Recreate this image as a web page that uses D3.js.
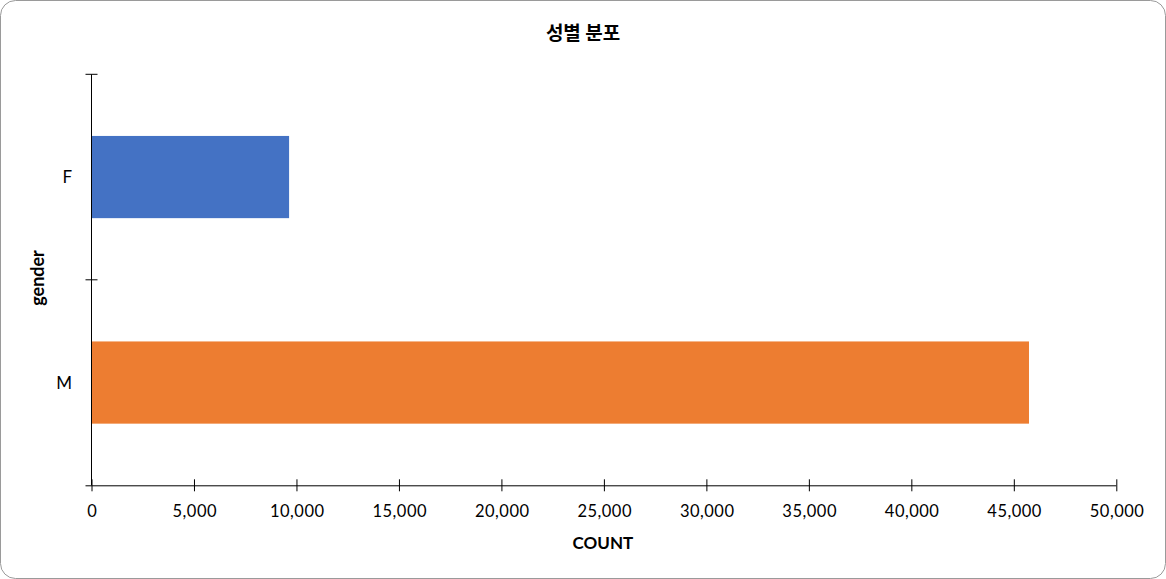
<!DOCTYPE html>
<html>
<head>
<meta charset="utf-8">
<script src="https://cdn.jsdelivr.net/npm/d3@7/dist/d3.min.js"></script>
<style>
  html, body { margin: 0; padding: 0; background: #fff; }
  svg { display: block; }
</style>
</head>
<body>
<svg id="chart" width="1166" height="579"></svg>
<script>
const title = "성별 분포";
const categories = ["F", "M"];
const counts = [9640, 45740];
const colors = ["#4472C4", "#ED7D31"];
const xTicks = [0, 5000, 10000, 15000, 20000, 25000, 30000, 35000, 40000, 45000, 50000];
const xLabel = "COUNT";
const yLabel = "gender";

const W = 1166, H = 579;
const m = { left: 91.5, right: 1116.3, top: 74.3, bottom: 485.3 };
const font = "Lato, 'Open Sans', sans-serif";

const svg = d3.select("#chart");

svg.append("rect")
  .attr("x", 0.5).attr("y", 0.5)
  .attr("width", W - 1).attr("height", H - 1)
  .attr("rx", 15).attr("ry", 15)
  .attr("fill", "#fff").attr("stroke", "#9a9a9a").attr("stroke-width", 1);

const x = d3.scaleLinear().domain([0, 50000]).range([m.left, m.right]);
const y = d3.scaleBand().domain(categories).range([m.top, m.bottom])
  .paddingInner(0.6).paddingOuter(0.3);

// bars
svg.append("g").selectAll("rect")
  .data(categories)
  .join("rect")
  .attr("x", x(0))
  .attr("y", d => y(d))
  .attr("width", (d, i) => x(counts[i]) - x(0))
  .attr("height", y.bandwidth())
  .attr("fill", (d, i) => colors[i]);

// x axis
const xAxis = svg.append("g")
  .attr("transform", `translate(0,${m.bottom})`)
  .call(d3.axisBottom(x).tickValues(xTicks).tickFormat(d3.format(",")).tickSizeOuter(0).tickSize(6).tickPadding(14));
xAxis.select(".domain").attr("d", `M${m.left - 6},0.5H${m.right}`).attr("stroke", "#000");
xAxis.selectAll(".tick line").attr("y1", -6).attr("y2", 6).attr("stroke", "#000");
xAxis.selectAll(".tick text")
  .attr("font-family", font).attr("font-size", 16.5).attr("fill", "#000")
  .attr("letter-spacing", "0.5px").attr("dx", "0.3px");

// y axis: ticks at band boundaries
const step = y.step();
const boundaries = [m.top, m.top + step, m.bottom];
const yg = svg.append("g");
yg.append("line")
  .attr("x1", m.left).attr("x2", m.left)
  .attr("y1", m.top).attr("y2", m.bottom)
  .attr("stroke", "#000");
yg.selectAll("line.tick")
  .data(boundaries.slice(0, 2))
  .join("line")
  .attr("class", "tick")
  .attr("x1", m.left - 6).attr("x2", m.left + 6)
  .attr("y1", d => d).attr("y2", d => d)
  .attr("stroke", "#000");
yg.selectAll("text")
  .data(categories)
  .join("text")
  .attr("x", m.left - 19.5)
  .attr("y", d => y(d) + y.bandwidth() / 2)
  .attr("dy", "0.35em")
  .attr("text-anchor", "end")
  .attr("font-family", font).attr("font-size", 17)
  .attr("fill", "#000")
  .text(d => d);

// title
svg.append("text")
  .attr("x", 583).attr("y", 40)
  .attr("text-anchor", "middle")
  .attr("font-family", "'Noto Sans CJK KR', sans-serif")
  .attr("font-weight", "bold").attr("font-size", 19)
  .attr("fill", "#000")
  .text(title);

// x label
svg.append("text")
  .attr("x", (m.left + m.right) / 2 - 1).attr("y", 548.5)
  .attr("text-anchor", "middle")
  .attr("font-family", font).attr("font-weight", "bold").attr("font-size", 17)
  .attr("fill", "#000")
  .text(xLabel);

// y label
svg.append("text")
  .attr("transform", `translate(43.5,${278}) rotate(-90)`)
  .attr("text-anchor", "middle")
  .attr("font-family", font).attr("font-weight", "bold").attr("font-size", 18)
  .attr("fill", "#000")
  .text(yLabel);
</script>
</body>
</html>
